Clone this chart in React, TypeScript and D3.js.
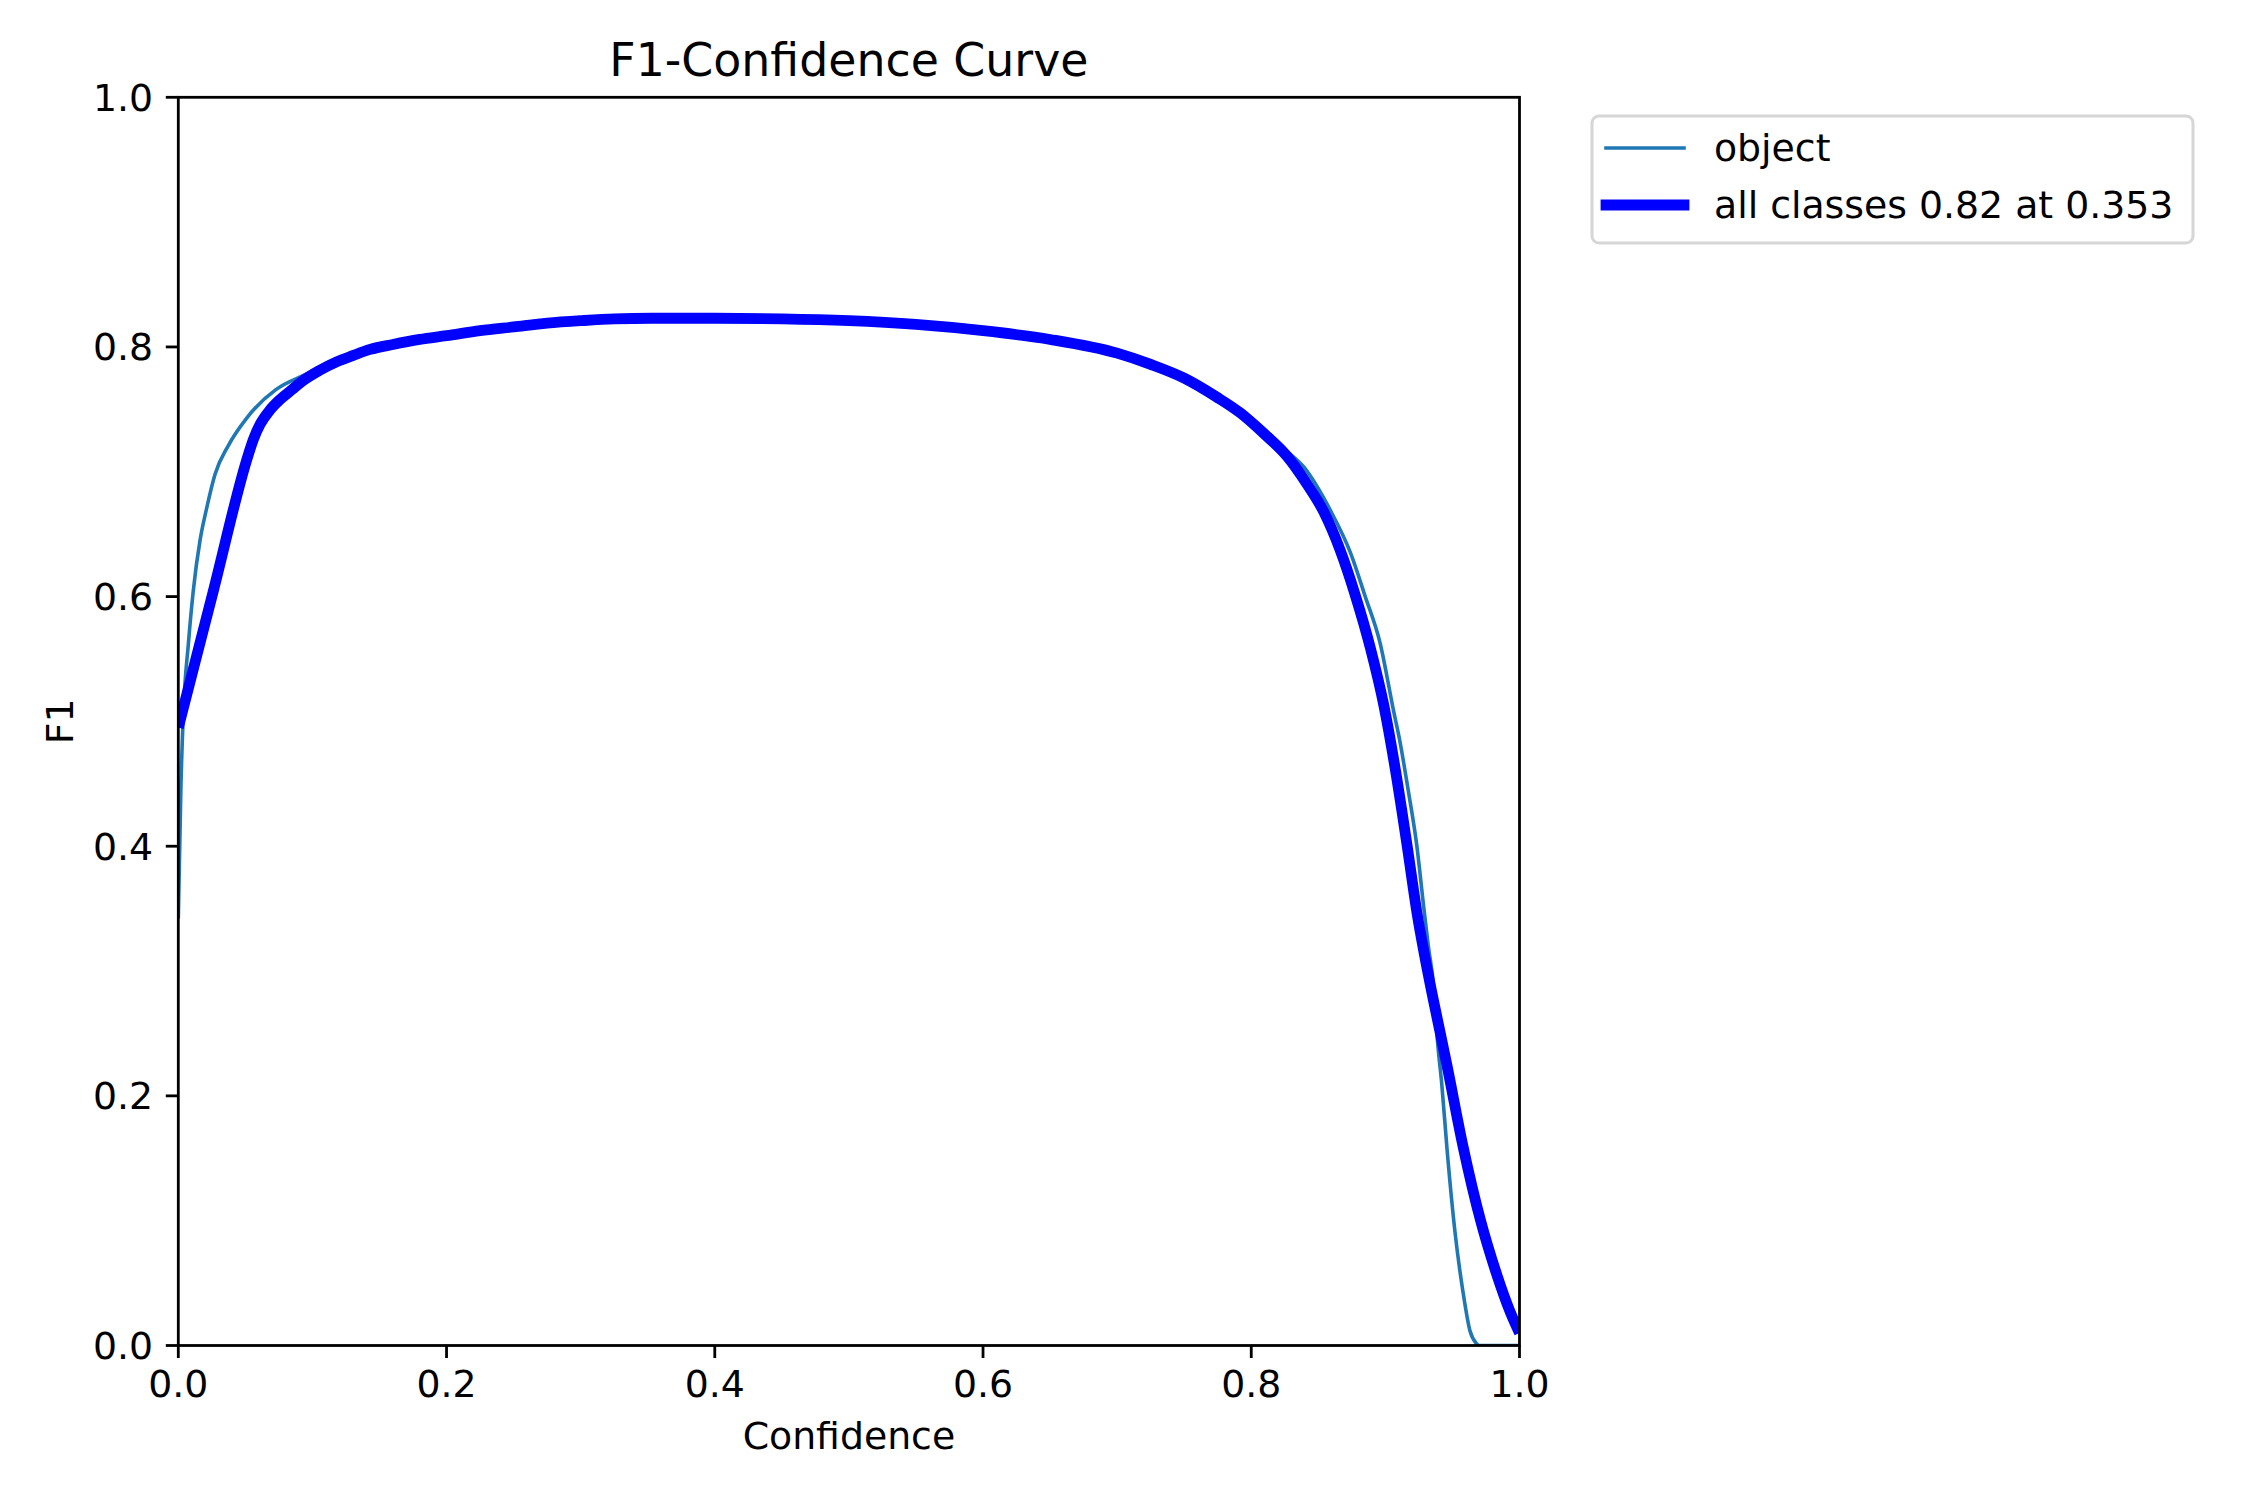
import React from "react";
import * as d3 from "d3";

const xTicks = [0, 0.2, 0.4, 0.6, 0.8, 1.0];
const yTicks = [0, 0.2, 0.4, 0.6, 0.8, 1.0];

const objectConf = [0, 0.002, 0.0037, 0.0075, 0.0112, 0.0162, 0.0212, 0.0274, 0.0373, 0.051, 0.073, 0.093, 0.118, 0.143, 0.18, 0.2, 0.25, 0.3, 0.35, 0.4, 0.45, 0.5, 0.55, 0.6, 0.65, 0.7, 0.725, 0.75, 0.774, 0.792, 0.81, 0.825, 0.839, 0.859, 0.874, 0.885, 0.896, 0.906, 0.911, 0.917, 0.9235, 0.9285, 0.932, 0.936, 0.939, 0.942, 0.946, 0.952, 0.958, 0.963, 0.9675, 0.97, 1.0];
const objectF1 = [0.342, 0.45, 0.505, 0.562, 0.605, 0.645, 0.671, 0.698, 0.721, 0.743, 0.766, 0.777, 0.788, 0.798, 0.806, 0.809, 0.816, 0.821, 0.823, 0.823, 0.8225, 0.821, 0.818, 0.813, 0.806, 0.795, 0.786, 0.775, 0.761, 0.749, 0.734, 0.718, 0.704, 0.669, 0.635, 0.6, 0.563, 0.509, 0.483, 0.445, 0.4, 0.352, 0.32, 0.288, 0.242, 0.21, 0.157, 0.09, 0.042, 0.012, 0.002, 0, 0];

const allConf = [0, 0.026, 0.052, 0.056, 0.061, 0.068, 0.076, 0.085, 0.093, 0.105, 0.118, 0.13, 0.143, 0.16, 0.18, 0.2, 0.225, 0.25, 0.275, 0.3, 0.325, 0.353, 0.375, 0.4, 0.45, 0.5, 0.55, 0.6, 0.65, 0.7, 0.725, 0.75, 0.774, 0.792, 0.809, 0.827, 0.841, 0.854, 0.866, 0.877, 0.889, 0.899, 0.9075, 0.916, 0.9235, 0.932, 0.94, 0.946, 0.958, 0.971, 0.983, 0.993, 1.0];
const allF1 = [0.495, 0.604, 0.713, 0.726, 0.738, 0.749, 0.758, 0.766, 0.773, 0.781, 0.788, 0.793, 0.798, 0.802, 0.806, 0.809, 0.813, 0.816, 0.819, 0.821, 0.8225, 0.823, 0.823, 0.823, 0.8225, 0.821, 0.818, 0.813, 0.806, 0.795, 0.786, 0.775, 0.76, 0.747, 0.731, 0.712, 0.691, 0.668, 0.638, 0.603, 0.558, 0.512, 0.461, 0.402, 0.347, 0.297, 0.255, 0.224, 0.159, 0.1, 0.057, 0.027, 0.01];

const legendLabels = ["object", "all classes 0.82 at 0.353"];

const W = 2250;
const H = 1500;
const L = 178.3, R = 1519.5, T = 97.3, B = 1345.5;
const FONT = "DejaVu Sans";
const FS = 37.8;
const TITLE_FS = 45.8;

export default function App() {
  const x = d3.scaleLinear().domain([0, 1]).range([L, R]);
  const y = d3.scaleLinear().domain([0, 1]).range([B, T]);
  const fmt = d3.format(".1f");

  const mk = (xs: number[], ys: number[]) =>
    d3
      .line<[number, number]>()
      .x((d) => x(d[0]))
      .y((d) => y(d[1]))
      .curve(d3.curveMonotoneX)(xs.map((v, i) => [v, ys[i]] as [number, number])) || "";

  const objPath = mk(objectConf, objectF1);
  const allPath = mk(allConf, allF1);

  return (
    <svg
      width={W}
      height={H}
      style={{ position: "absolute", left: 0, top: 0, background: "#fff" }}
      fontFamily={FONT}
    >
      <rect x={0} y={0} width={W} height={H} fill="#fff" />
      <defs>
        <clipPath id="plotclip">
          <rect x={L} y={T} width={R - L} height={B - T} />
        </clipPath>
      </defs>
      <g clipPath="url(#plotclip)">
        <path d={objPath} fill="none" stroke="#1f77b4" strokeWidth={3.6} strokeLinejoin="round" />
        <path d={allPath} fill="none" stroke="#0000ff" strokeWidth={10.8} strokeLinejoin="round" />
      </g>
      {/* spines */}
      <rect x={L} y={T} width={R - L} height={B - T} fill="none" stroke="#000" strokeWidth={2.8} />
      {/* x ticks */}
      {xTicks.map((t) => (
        <g key={"x" + t}>
          <line x1={x(t)} x2={x(t)} y1={B} y2={B + 12.5} stroke="#000" strokeWidth={2.8} />
          <text x={x(t)} y={1397} fontSize={FS} textAnchor="middle" fill="#000">
            {fmt(t)}
          </text>
        </g>
      ))}
      {/* y ticks */}
      {yTicks.map((t) => (
        <g key={"y" + t}>
          <line x1={L - 12.5} x2={L} y1={y(t)} y2={y(t)} stroke="#000" strokeWidth={2.8} />
          <text x={153} y={y(t) + 13.5} fontSize={FS} textAnchor="end" fill="#000">
            {fmt(t)}
          </text>
        </g>
      ))}
      {/* title */}
      <text x={(L + R) / 2} y={76} fontSize={TITLE_FS} textAnchor="middle" fill="#000">
        F1-Confidence Curve
      </text>
      {/* axis labels */}
      <text x={(L + R) / 2} y={1449} fontSize={FS} textAnchor="middle" fill="#000">
        Confidence
      </text>
      <text
        transform={`translate(73, ${(T + B) / 2}) rotate(-90)`}
        fontSize={FS}
        textAnchor="middle"
        fill="#000"
      >
        F1
      </text>
      {/* legend */}
      <rect x={1592} y={116} width={601} height={127} rx={7} ry={7} fill="#fff" fillOpacity={0.8} stroke="#d6d6d6" strokeWidth={3} />
      <line x1={1606} x2={1684} y1={148} y2={148} stroke="#1f77b4" strokeWidth={3.6} strokeLinecap="square" />
      <text x={1714} y={161} fontSize={FS} fill="#000">
        {legendLabels[0]}
      </text>
      <line x1={1606} x2={1684} y1={205} y2={205} stroke="#0000ff" strokeWidth={10.8} strokeLinecap="square" />
      <text x={1714} y={218} fontSize={FS} fill="#000">
        {legendLabels[1]}
      </text>
    </svg>
  );
}
